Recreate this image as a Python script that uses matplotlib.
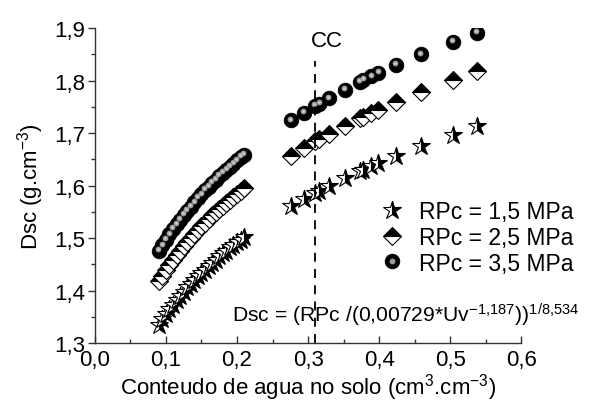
import matplotlib
matplotlib.use('Agg')
import matplotlib.pyplot as plt
from matplotlib.lines import Line2D
from matplotlib.legend_handler import HandlerTuple
from matplotlib.ticker import MultipleLocator
import matplotlib.transforms as mtransforms

plt.rcParams['font.family'] = ['Liberation Sans', 'DejaVu Sans']
plt.rcParams['mathtext.default'] = 'regular'

# soil water content (cm3.cm-3), two groups of samples
uv = [0.09, 0.095, 0.10, 0.105, 0.11, 0.115, 0.12, 0.125, 0.13, 0.135,
      0.14, 0.145, 0.15, 0.155, 0.16, 0.165, 0.17, 0.175, 0.18, 0.185,
      0.19, 0.195, 0.20, 0.205, 0.21,
      0.276, 0.294, 0.31, 0.316, 0.329, 0.352, 0.373, 0.378, 0.389, 0.399,
      0.424, 0.459, 0.504, 0.538]

dsc_15 = [1.335, 1.346, 1.355, 1.364, 1.373, 1.382, 1.390, 1.398, 1.406, 1.413,
          1.420, 1.427, 1.434, 1.440, 1.447, 1.453, 1.459, 1.465, 1.471, 1.476,
          1.482, 1.487, 1.492, 1.497, 1.502,
          1.561, 1.574, 1.586, 1.590, 1.599, 1.614, 1.627, 1.630, 1.637, 1.643,
          1.657, 1.675, 1.697, 1.713]
dsc_25 = [1.418, 1.428, 1.439, 1.449, 1.458, 1.467, 1.476, 1.484, 1.492, 1.500,
          1.508, 1.515, 1.522, 1.529, 1.536, 1.543, 1.549, 1.555, 1.561, 1.567,
          1.573, 1.579, 1.584, 1.590, 1.595,
          1.657, 1.672, 1.684, 1.688, 1.698, 1.714, 1.728, 1.731, 1.738, 1.744,
          1.759, 1.778, 1.802, 1.818]
dsc_35 = [1.475, 1.486, 1.497, 1.507, 1.517, 1.526, 1.535, 1.544, 1.552, 1.560,
          1.568, 1.576, 1.583, 1.591, 1.598, 1.605, 1.611, 1.618, 1.624, 1.630,
          1.636, 1.642, 1.648, 1.654, 1.659,
          1.724, 1.739, 1.752, 1.756, 1.766, 1.783, 1.797, 1.801, 1.808, 1.814,
          1.830, 1.850, 1.874, 1.891]

labels = ['RPc = 1,5 MPa', 'RPc = 2,5 MPa', 'RPc = 3,5 MPa']
cc = 0.31

fig = plt.figure(figsize=(5.93, 4.10), dpi=100)
ax = fig.add_axes([0.160, 0.161, 0.719, 0.768])

star_kw = dict(ls='none', marker='*', ms=13.5, fillstyle='right',
               mfc='black', mfcalt='white', mec='black', mew=0.8)
diam_kw = dict(ls='none', marker='D', ms=9, fillstyle='top',
               mfc='black', mfcalt='white', mec='black', mew=0.8)
ball_kw = dict(ls='none', marker='o', ms=10.5, mfc='black', mec='black', mew=0.6)
glint_kw = dict(ls='none', marker='o', ms=4.2, mfc='#9a9a9a', mec='none')

ax.plot(uv, dsc_15, **star_kw)
ax.plot(uv, dsc_25, **diam_kw)
# shaded spheres: black ball plus a grey highlight shifted up-left
ax.plot(uv, dsc_35, **ball_kw)
hl = mtransforms.offset_copy(ax.transData, fig=fig, x=-0.8, y=1.8, units='dots')
ax.plot(uv, dsc_35, transform=hl, **glint_kw)
ax.plot(uv, dsc_35, ls='none', marker='o', ms=1.8, mfc='#d4d4d4', mec='none',
        transform=hl)

ax.plot([cc, cc], [1.3, 1.838], ls=(0, (5, 4)), color='black', lw=1.3)
ax.text(0.326, 1.857, 'CC', ha='center', va='bottom', fontsize=16)
ax.text(0.193, 1.355, r'Dsc = (RPc /(0,00729*Uv$^{-1{,}187}$))$^{1/8{,}534}$',
        ha='left', va='center', fontsize=15.2)

h1 = Line2D([], [], **star_kw)
h2 = Line2D([], [], **diam_kw)
h3a = Line2D([], [], **ball_kw)
h3b = Line2D([], [], **glint_kw)
ax.legend([h1, h2, (h3a, h3b)], labels, handler_map={tuple: HandlerTuple(ndivide=1)},
          loc='upper left', bbox_to_anchor=(378 / 593, 1 - 201 / 410),
          bbox_transform=fig.transFigure, frameon=False, fontsize=16.5,
          handlelength=1.2, handletextpad=0.6, labelspacing=0.12,
          borderpad=0, borderaxespad=0)

ax.set_xlim(0.0, 0.6)
ax.set_ylim(1.3, 1.9)
ax.xaxis.set_major_locator(MultipleLocator(0.1))
ax.xaxis.set_minor_locator(MultipleLocator(0.05))
ax.yaxis.set_major_locator(MultipleLocator(0.1))
ax.yaxis.set_minor_locator(MultipleLocator(0.05))
fmt = lambda v, p: ('%.1f' % v).replace('.', ',')
ax.xaxis.set_major_formatter(fmt)
ax.yaxis.set_major_formatter(fmt)
ax.tick_params(axis='x', which='both', direction='in', labelsize=16, pad=4)
ax.tick_params(axis='y', which='both', direction='out', labelsize=16, pad=2)
ax.tick_params(which='major', length=5, width=1, color='#333333')
ax.tick_params(which='minor', length=3, width=1, color='#333333')
ax.spines['top'].set_visible(False)
ax.spines['right'].set_visible(False)
for s in ('left', 'bottom'):
    ax.spines[s].set_color('#333333')
    ax.spines[s].set_linewidth(1.0)

ax.set_xlabel(r'Conteudo de agua no solo (cm$^{3}$.cm$^{-3}$)', fontsize=16, labelpad=1)
ax.set_ylabel(r'Dsc (g.cm$^{-3}$)', fontsize=16, labelpad=6)

fig.savefig('out.png', dpi=100)
